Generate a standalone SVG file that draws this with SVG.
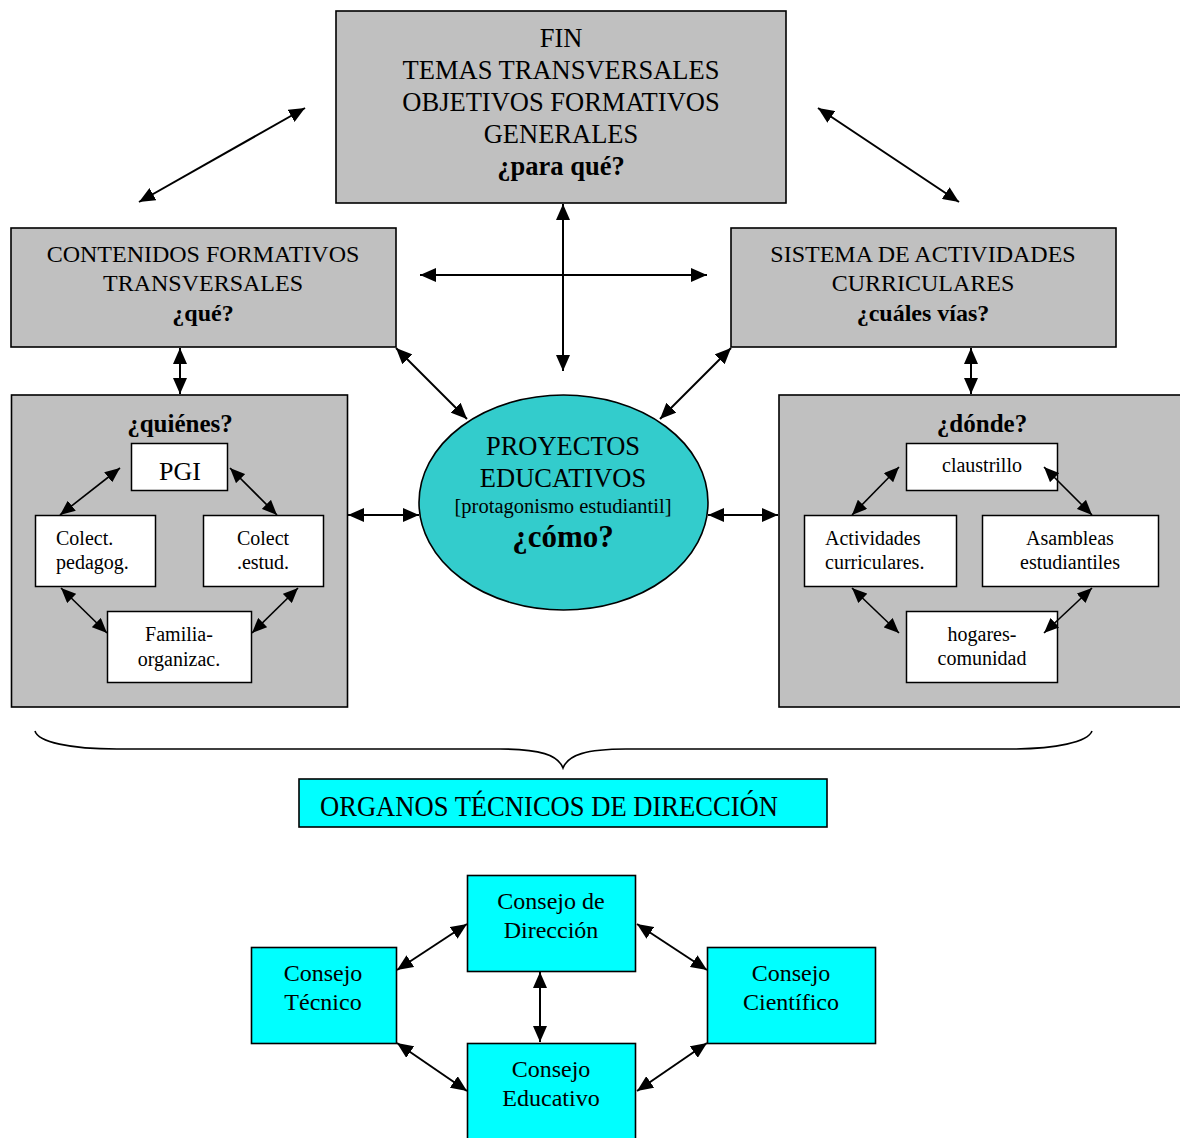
<svg xmlns="http://www.w3.org/2000/svg" width="1180" height="1138" viewBox="0 0 1180 1138">
<style>
text{font-family:"Liberation Serif","Times New Roman",serif;fill:#000;}
.grey{fill:#c0c0c0;stroke:#000;stroke-width:1.6;}
.white{fill:#fff;stroke:#000;stroke-width:1.5;}
.cyan{fill:#00ffff;stroke:#000;stroke-width:1.6;}
.t26{font-size:26.5px;text-anchor:middle;}
.t24{font-size:24px;text-anchor:middle;}
.t20{font-size:20px;}
.k{font-size:24px;text-anchor:middle;}
.b{font-weight:bold;}
.c{text-anchor:middle;}
.arr{stroke:#000;stroke-width:2;fill:none;marker-start:url(#ah);marker-end:url(#ah);}
.arr2{stroke:#000;stroke-width:1.6;fill:none;marker-start:url(#ah2);marker-end:url(#ah2);}
</style>
<defs>
<marker id="ah" markerUnits="userSpaceOnUse" viewBox="0 0 16 14" refX="16" refY="7" markerWidth="16" markerHeight="14" orient="auto-start-reverse">
<path d="M0,0 L16,7 L0,14 Z" fill="#000"/>
</marker>
<marker id="ah2" markerUnits="userSpaceOnUse" viewBox="0 0 15 13" refX="15" refY="6.5" markerWidth="15" markerHeight="13" orient="auto-start-reverse">
<path d="M0,0 L15,6.5 L0,13 Z" fill="#000"/>
</marker>
</defs>

<g id="fin">
<rect class="grey" x="336" y="11" width="450" height="192"/>
<text class="t26" x="561" y="47">FIN</text>
<text class="t26" x="561" y="79">TEMAS TRANSVERSALES</text>
<text class="t26" x="561" y="111">OBJETIVOS FORMATIVOS</text>
<text class="t26" x="561" y="143">GENERALES</text>
<text class="t26 b" x="561" y="175">¿para qué?</text>
</g>

<g id="contenidos">
<rect class="grey" x="11" y="228" width="385" height="119"/>
<text class="t24" x="203" y="262">CONTENIDOS FORMATIVOS</text>
<text class="t24" x="203" y="291">TRANSVERSALES</text>
<text class="t24 b" x="203" y="321">¿qué?</text>
</g>

<g id="sistema">
<rect class="grey" x="731" y="228" width="385" height="119"/>
<text class="t24" x="923" y="262">SISTEMA DE ACTIVIDADES</text>
<text class="t24" x="923" y="291">CURRICULARES</text>
<text class="t24 b" x="923" y="321">¿cuáles vías?</text>
</g>

<g id="quienes">
<rect class="grey" x="11.5" y="395" width="336" height="312"/>
<text class="c b" x="180" y="432" font-size="25">¿quiénes?</text>
</g>
<g id="pgi">
<rect class="white" x="131.5" y="443.5" width="96" height="47"/>
<text class="c" x="180" y="480" font-size="26">PGI</text>
</g>
<g id="colect-pedagog">
<rect class="white" x="35.5" y="515.5" width="120" height="71"/>
<text class="t20" x="56" y="545">Colect.</text>
<text class="t20" x="56" y="569">pedagog.</text>
</g>
<g id="colect-estud">
<rect class="white" x="203.5" y="515.5" width="120" height="71"/>
<text class="t20 c" x="263" y="545">Colect</text>
<text class="t20 c" x="263" y="569">.estud.</text>
</g>
<g id="familia">
<rect class="white" x="107.5" y="611.5" width="144" height="71"/>
<text class="t20 c" x="179" y="641">Familia-</text>
<text class="t20 c" x="179" y="666">organizac.</text>
</g>

<g id="donde">
<rect class="grey" x="779" y="395" width="420" height="312"/>
<text class="c b" x="982" y="432" font-size="25">¿dónde?</text>
</g>
<g id="claustrillo">
<rect class="white" x="906.5" y="443.5" width="151" height="47"/>
<text class="t20 c" x="982" y="472">claustrillo</text>
</g>
<g id="actividades">
<rect class="white" x="804.5" y="515.5" width="152" height="71"/>
<text class="t20" x="825" y="545">Actividades</text>
<text class="t20" x="825" y="569">curriculares.</text>
</g>
<g id="asambleas">
<rect class="white" x="982.5" y="515.5" width="176" height="71"/>
<text class="t20 c" x="1070" y="545">Asambleas</text>
<text class="t20 c" x="1070" y="569">estudiantiles</text>
</g>
<g id="hogares">
<rect class="white" x="906.5" y="611.5" width="151" height="71"/>
<text class="t20 c" x="982" y="641">hogares-</text>
<text class="t20 c" x="982" y="665">comunidad</text>
</g>

<g id="proyectos">
<ellipse cx="563.5" cy="502.5" rx="144.5" ry="107.5" fill="#33cccc" stroke="#000" stroke-width="1.6"/>
<text class="t26" x="563" y="455">PROYECTOS</text>
<text class="t26" x="563" y="487">EDUCATIVOS</text>
<text class="c" x="563" y="513" font-size="20.5">[protagonismo estudiantil]</text>
<text class="c b" x="563" y="547" font-size="31">¿cómo?</text>
</g>

<g id="organos">
<rect class="cyan" x="299" y="779" width="528" height="48"/>
<text x="320" y="816" font-size="30" textLength="458" lengthAdjust="spacingAndGlyphs">ORGANOS TÉCNICOS DE DIRECCIÓN</text>
</g>

<g id="consejo-direccion">
<rect class="cyan" x="467.5" y="875.5" width="168" height="96"/>
<text class="k" x="551" y="909">Consejo de</text>
<text class="k" x="551" y="938">Dirección</text>
</g>
<g id="consejo-tecnico">
<rect class="cyan" x="251.5" y="947.5" width="145" height="96"/>
<text class="k" x="323" y="981">Consejo</text>
<text class="k" x="323" y="1010">Técnico</text>
</g>
<g id="consejo-cientifico">
<rect class="cyan" x="707.5" y="947.5" width="168" height="96"/>
<text class="k" x="791" y="981">Consejo</text>
<text class="k" x="791" y="1010">Científico</text>
</g>
<g id="consejo-educativo">
<rect class="cyan" x="467.5" y="1043.5" width="168" height="110"/>
<text class="k" x="551" y="1077">Consejo</text>
<text class="k" x="551" y="1106">Educativo</text>
</g>

<g id="connectors">
<line class="arr" x1="139" y1="202" x2="305" y2="108"/>
<line class="arr" x1="818" y1="108" x2="959" y2="202"/>
<line class="arr" x1="563" y1="204" x2="563" y2="371"/>
<line class="arr" x1="420" y1="275" x2="707" y2="275"/>
<line class="arr" x1="396" y1="348" x2="467" y2="419"/>
<line class="arr" x1="731" y1="348" x2="660" y2="419"/>
<line class="arr" x1="180" y1="348" x2="180" y2="394"/>
<line class="arr" x1="971" y1="348" x2="971" y2="394"/>
<line class="arr" x1="348" y1="515" x2="419" y2="515"/>
<line class="arr" x1="708" y1="515" x2="778" y2="515"/>
<line class="arr2" x1="120" y1="468" x2="60" y2="515"/>
<line class="arr2" x1="230" y1="468" x2="277" y2="515"/>
<line class="arr2" x1="61" y1="588" x2="107" y2="633"/>
<line class="arr2" x1="298" y1="588" x2="252" y2="633"/>
<line class="arr2" x1="899" y1="467" x2="852" y2="515"/>
<line class="arr2" x1="1044" y1="467" x2="1092" y2="515"/>
<line class="arr2" x1="852" y1="588" x2="899" y2="633"/>
<line class="arr2" x1="1092" y1="588" x2="1044" y2="633"/>
<path d="M35,731 C38,742 70,749 117,749 L500,749 C540,749 558,755 563,768 C568,755 586,749 626,749 L1010,749 C1056,749 1088,742 1092,731" fill="none" stroke="#000" stroke-width="1.6"/>
<line class="arr" x1="397" y1="970" x2="467" y2="924"/>
<line class="arr" x1="637" y1="924" x2="707" y2="970"/>
<line class="arr" x1="540" y1="972" x2="540" y2="1042"/>
<line class="arr" x1="397" y1="1043" x2="467" y2="1091"/>
<line class="arr" x1="707" y1="1043" x2="637" y2="1091"/>
</g>
</svg>
